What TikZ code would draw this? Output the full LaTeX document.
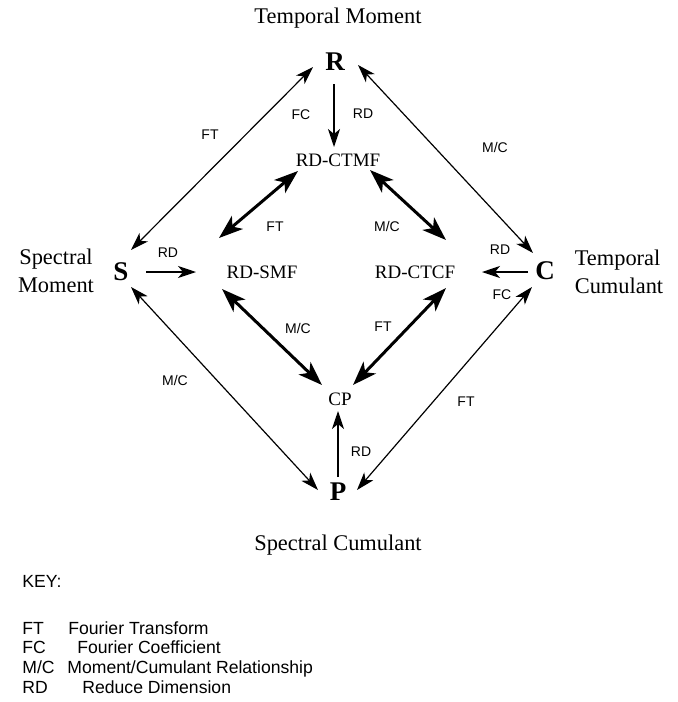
\documentclass[tikz,border=0pt]{standalone}
\usepackage{fontspec}
\setmainfont{Liberation Serif}
\setsansfont{Liberation Sans}
\usetikzlibrary{arrows.meta}
\begin{document}
\begin{tikzpicture}[x=0.5pt,y=-0.5pt,
  bigletter/.style={font=\fontsize{13.5}{13.5}\selectfont\bfseries, inner sep=0pt},
  midtxt/.style={font=\fontsize{9.5}{11}\selectfont, inner sep=0pt},
  captxt/.style={font=\fontsize{11.2}{14}\selectfont, inner sep=0pt, align=center},
  labtxt/.style={font=\sffamily\fontsize{7}{8}\selectfont, inner sep=0pt},
  keyt/.style={font=\sffamily\fontsize{8.8}{11}\selectfont, inner sep=0pt, anchor=base west},
  thintip/.tip={Stealth[length=9pt,width=6pt,inset=2.5pt]},
  thicktip/.tip={Stealth[length=12pt,width=8.5pt,inset=3.2pt]},
  outerline/.style={line width=0.6pt, thintip-thintip},
  singleline/.style={line width=0.6pt, -thintip},
  innerline/.style={line width=1.5pt, thicktip-thicktip},
]
\useasboundingbox (0,0) rectangle (678,702);
\fill[white] (0,0) rectangle (678,702);

% main nodes
\node[bigletter] (R) at (335,62) {R};
\node[bigletter] (S) at (121,272) {S};
\node[bigletter] (C) at (545,271) {C};
\node[bigletter] (P) at (338,492) {P};
\node[midtxt] (CTMF) at (338,160) {RD-CTMF};
\node[midtxt] (SMF) at (262,272) {RD-SMF};
\node[midtxt] (CTCF) at (415,272) {RD-CTCF};
\node[midtxt] (CP) at (340,399) {CP};

% captions
\node[captxt] (tm) at (338,18) {Temporal Moment};
\node[captxt] (sm) at (56,271) {Spectral\\Moment};
\node[captxt, align=left] (tc) at (619,272) {Temporal\\Cumulant};
\node[captxt] (sc) at (338,545) {Spectral Cumulant};

% outer diamond
\draw[outerline] ([shift={(-22,5)}]R.center) -- ([shift={(10,-22)}]S.center);
\draw[outerline] ([shift={(23,3)}]R.center) -- ([shift={(-12,-18)}]C.center);
\draw[outerline] ([shift={(10,15)}]S.center) -- ([shift={(-20,-2)}]P.center);
\draw[outerline] ([shift={(-13,16)}]C.center) -- ([shift={(19,-2)}]P.center);

% straight reductions
\draw[singleline] ([shift={(-1,22)}]R.center) -- ([shift={(-4,-13)}]CTMF.center);
\draw[singleline] ([shift={(25,0)}]S.center) -- ([shift={(-66,0)}]SMF.center);
\draw[singleline] ([shift={(-17,1)}]C.center) -- ([shift={(67,0)}]CTCF.center);
\draw[singleline] ([shift={(0,-15)}]P.center) -- ([shift={(-2,12)}]CP.center);

% inner diamond
\draw[innerline] ([shift={(-40,11)}]CTMF.center) -- ([shift={(-43,-34)}]SMF.center);
\draw[innerline] ([shift={(32,10)}]CTMF.center) -- ([shift={(31,-32)}]CTCF.center);
\draw[innerline] ([shift={(-40,17)}]SMF.center) -- ([shift={(-18,-14)}]CP.center);
\draw[innerline] ([shift={(31,16)}]CTCF.center) -- ([shift={(13,-14)}]CP.center);

% labels
\node[labtxt] (l1) at (210,135) {FT};
\node[labtxt] (l2) at (495,147) {M/C};
\node[labtxt] (l3) at (175,380) {M/C};
\node[labtxt] (l4) at (466,402) {FT};
\node[labtxt] (l5) at (301,115) {FC};
\node[labtxt] (l6) at (363,114) {RD};
\node[labtxt] (l7) at (168,253) {RD};
\node[labtxt] (l8) at (500,250) {RD};
\node[labtxt] (l9) at (502,295) {FC};
\node[labtxt] (l10) at (361,452) {RD};
\node[labtxt] (l11) at (275,227) {FT};
\node[labtxt] (l12) at (387,226) {M/C};
\node[labtxt] (l13) at (298,328) {M/C};
\node[labtxt] (l14) at (383,327) {FT};

% key
\node[keyt] (key) at (22,587) {KEY:};
\node[keyt] (k1) at (22,634) {FT};
\node[keyt] (k1d) at (68,634) {Fourier Transform};
\node[keyt] (k2) at (22,653) {FC};
\node[keyt] (k2d) at (77,653) {Fourier Coefficient};
\node[keyt] (k3) at (22,673) {M/C};
\node[keyt] (k3d) at (67,673) {Moment/Cumulant Relationship};
\node[keyt] (k4) at (22,693) {RD};
\node[keyt] (k4d) at (82,693) {Reduce Dimension};
\end{tikzpicture}
\end{document}
